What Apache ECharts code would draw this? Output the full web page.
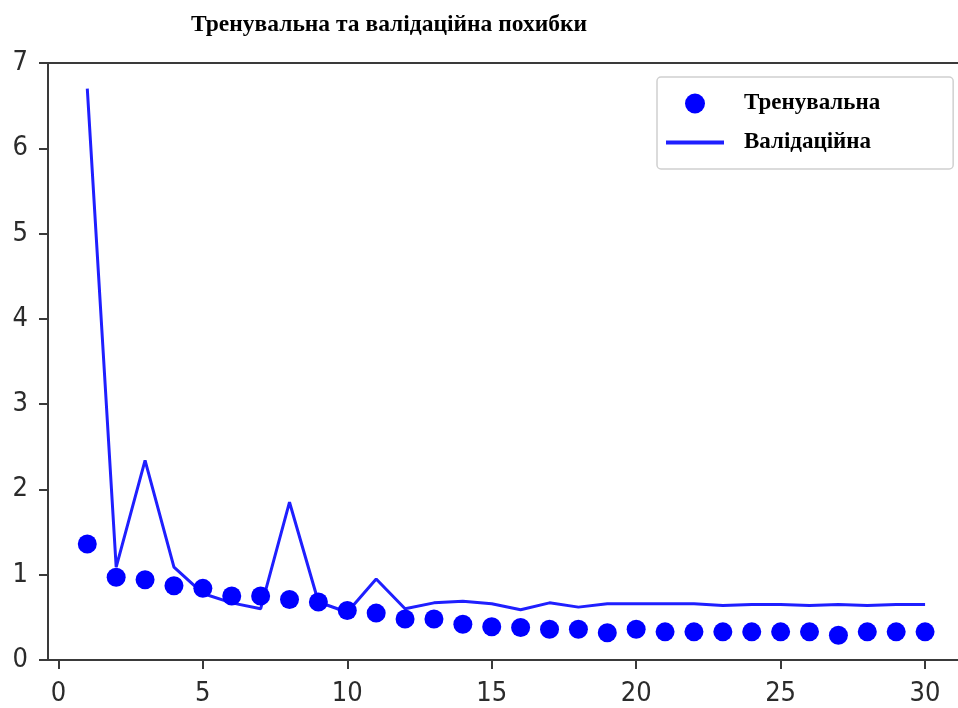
<!DOCTYPE html>
<html>
<head>
<meta charset="utf-8">
<title>Тренувальна та валідаційна похибки</title>
<script src="https://cdn.jsdelivr.net/npm/echarts@6/dist/echarts.min.js"></script>
<style>
  html, body { margin: 0; padding: 0; background: #fff; }
  #chart { width: 958px; height: 708px; }
</style>
</head>
<body>
<div id="chart"></div>
<script>
// epochs 1..30
const epochs = [1, 2, 3, 4, 5, 6, 7, 8, 9, 10, 11, 12, 13, 14, 15, 16, 17, 18, 19, 20, 21, 22, 23, 24, 25, 26, 27, 28, 29, 30]
const trainLoss = [1.36, 0.97, 0.94, 0.87, 0.84, 0.75, 0.75, 0.71, 0.68, 0.58, 0.55, 0.48, 0.48, 0.42, 0.39, 0.38, 0.36, 0.36, 0.32, 0.36, 0.33, 0.33, 0.33, 0.33, 0.33, 0.33, 0.29, 0.33, 0.33, 0.33]
const valLoss = [6.70, 1.09, 2.34, 1.09, 0.78, 0.67, 0.60, 1.85, 0.68, 0.56, 0.95, 0.60, 0.67, 0.69, 0.66, 0.59, 0.67, 0.62, 0.66, 0.66, 0.66, 0.66, 0.64, 0.65, 0.65, 0.64, 0.65, 0.64, 0.65, 0.65]
const xTicks = [0, 5, 10, 15, 20, 25, 30]

const spineColor = '#3a3a3a'
const tickFont = { fontSize: 27, color: '#2b2b2b', fontFamily: 'DejaVu Sans Condensed' }
const serifBold = { fontFamily: 'Liberation Serif', fontWeight: 'bold', color: '#000' }

const chart = echarts.init(document.getElementById('chart'))

chart.setOption({
  animation: false,
  title: {
    text: 'Тренувальна та валідаційна похибки',
    left: 186,
    top: 8,
    textStyle: { ...serifBold, fontSize: 23.5 },
  },
  legend: {
    orient: 'vertical',
    left: 657,
    top: 77,
    padding: [15, 73, 15, 7],
    itemWidth: 58,
    itemHeight: 20,
    itemGap: 16,
    backgroundColor: '#fff',
    borderColor: '#d0d0d0',
    borderWidth: 1.5,
    borderRadius: 4,
    textStyle: { ...serifBold, fontSize: 23, padding: [0, 0, 0, 15] },
    data: [
      'Тренувальна',
      {
        name: 'Валідаційна',
        // plain line, no marker in the legend
        itemStyle: { color: 'rgba(0,0,0,0)', borderWidth: 0 },
        lineStyle: { width: 4 },
      },
    ],
  },
  grid: { left: 48, right: 0, top: 63, bottom: 48 },
  xAxis: [
    {
      type: 'value',
      min: -0.36,
      max: 31.14,
      axisLine: { show: true, onZero: false, lineStyle: { color: spineColor, width: 2 } },
      axisTick: { show: true, length: 9, customValues: xTicks, lineStyle: { color: spineColor, width: 2 } },
      axisLabel: { ...tickFont, margin: 20, customValues: xTicks },
      splitLine: { show: false },
    },
    {
      // top spine only
      type: 'value',
      position: 'top',
      min: -0.36,
      max: 31.14,
      axisLine: { show: true, onZero: false, lineStyle: { color: spineColor, width: 2 } },
      axisTick: { show: false },
      axisLabel: { show: false },
      splitLine: { show: false },
    },
  ],
  yAxis: {
    type: 'value',
    min: 0,
    max: 7,
    interval: 1,
    axisLine: { show: true, onZero: false, lineStyle: { color: spineColor, width: 2 } },
    axisTick: { show: true, length: 9, lineStyle: { color: spineColor, width: 2 } },
    axisLabel: { ...tickFont, margin: 20 },
    splitLine: { show: false },
  },
  series: [
    {
      name: 'Тренувальна',
      type: 'scatter',
      symbol: 'circle',
      symbolSize: 19,
      itemStyle: { color: '#0000ff', opacity: 1 },
      data: epochs.map((e, i) => [e, trainLoss[i]]),
      z: 3,
    },
    {
      name: 'Валідаційна',
      type: 'line',
      symbol: 'none',
      lineStyle: { color: '#1f1fff', width: 3 },
      itemStyle: { color: '#1f1fff' },
      data: epochs.map((e, i) => [e, valLoss[i]]),
      z: 2,
    },
  ],
})
</script>
</body>
</html>
